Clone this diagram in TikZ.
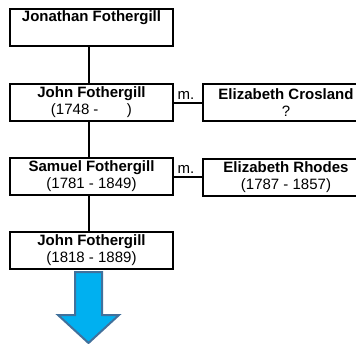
\documentclass[tikz,border=0pt]{standalone}
\usepackage{fontspec}
\setmainfont{Liberation Sans}
\definecolor{arrowfill}{HTML}{00B0F0}
\definecolor{arrowline}{HTML}{41719C}
\begin{document}
\begin{tikzpicture}[x=1pt,y=-1pt,
  person/.style={draw=black, line width=2pt, minimum width=163pt, minimum height=37pt,
    inner sep=0pt, align=center, font=\fontsize{15}{17}\selectfont},
  spouse/.style={person, minimum width=166pt},
  link/.style={line width=2pt},
  mlabel/.style={font=\fontsize{15}{17}\selectfont, inner sep=1pt, above=1.5pt},
  bigarrow/.style={fill=arrowfill, draw=arrowline, line width=2pt, line join=miter}
]
\useasboundingbox (0,0) rectangle (356,343);
\clip (0,0) rectangle (356,343);
\fill[white] (0,0) rectangle (356,343);

\node[person] (jon) at (91.5,27.5) {\textbf{Jonathan Fothergill}\\\strut};
\node[person] (john) at (91.5,102.5) {\textbf{John Fothergill}\\(1748 -\hspace{1.9em})};
\node[person] (sam) at (91.5,176.5) {\textbf{Samuel Fothergill}\\(1781 - 1849)};
\node[person] (john2) at (91.5,250.5) {\textbf{John Fothergill}\\(1818 - 1889)};

\node[spouse] (ec) at (286,102.5) {\textbf{Elizabeth Crosland}\\?};
\node[spouse] (er) at (286,177.5) {\textbf{Elizabeth Rhodes}\\(1787 - 1857)};

\draw[link] ([xshift=-3pt]jon.south) -- ([xshift=-3pt]john.north);
\draw[link] ([xshift=-3pt]john.south) -- ([xshift=-3pt]sam.north);
\draw[link] ([xshift=-3pt]sam.south) -- ([xshift=-3pt]john2.north);

\draw[link] (john.east) -- (ec.west) node[midway, mlabel, xshift=-2pt] {m.};
\draw[link] (sam.east) -- (sam.east -| er.west) node[midway, mlabel, xshift=-2pt] {m.};

\draw[bigarrow] (75,272) -- (102,272) -- (102,315) -- (119,315) -- (88.5,343)
  -- (58,315) -- (75,315) -- cycle;
\end{tikzpicture}
\end{document}
